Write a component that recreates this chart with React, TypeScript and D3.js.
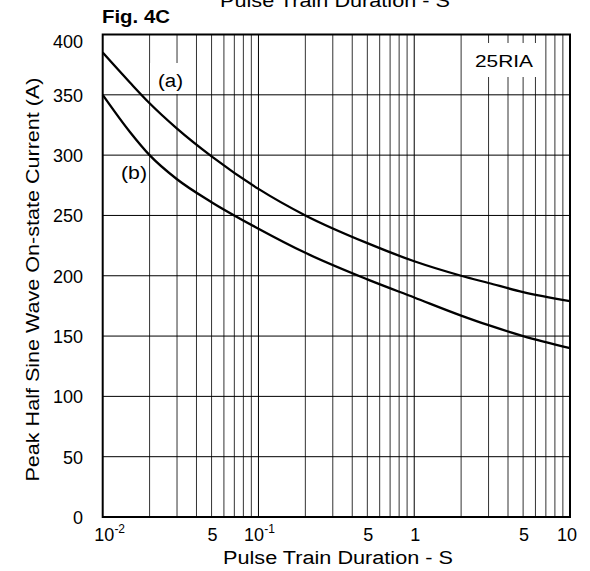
import React from "react";
import * as d3 from "d3";

const seriesAX = [0.01, 0.015, 0.02, 0.03, 0.05, 0.1, 0.2, 0.5, 1, 2, 3, 5, 10];
const seriesAY = [385, 360, 343, 322, 299, 272, 250, 227, 212, 200, 194, 186.5, 179];
const seriesBX = [0.01, 0.015, 0.02, 0.03, 0.05, 0.1, 0.2, 0.5, 1, 2, 3, 5, 10];
const seriesBY = [350, 319, 300, 280, 261, 239, 219, 197, 182, 167, 159, 150, 140];
const yTicks = [0, 50, 100, 150, 200, 250, 300, 350, 400];
const xTickLabels = [
  { v: 0.01, base: "10", sup: "-2" },
  { v: 0.05, base: "5", sup: "" },
  { v: 0.1, base: "10", sup: "-1" },
  { v: 0.5, base: "5", sup: "" },
  { v: 1, base: "1", sup: "" },
  { v: 5, base: "5", sup: "" },
  { v: 10, base: "10", sup: "" },
];

const W = 590;
const H = 571;
const L = 102.7, R = 570, T = 34.5, B = 517;
const FONT = "'Liberation Sans', Arial, Helvetica, sans-serif";

export default function App() {
  const x = d3.scaleLog().domain([0.01, 10]).range([L, R]);
  const y = d3.scaleLinear().domain([0, 400]).range([B, T]);
  const minor: number[] = [];
  for (const dec of [0.01, 0.1, 1]) {
    for (let k = 2; k <= 9; k++) minor.push(dec * k);
  }
  const majors = [0.1, 1];
  const line = d3
    .line<[number, number]>()
    .x((d) => x(d[0]))
    .y((d) => y(d[1]))
    .curve(d3.curveMonotoneX);
  const aPts = seriesAX.map((v, i) => [v, seriesAY[i]] as [number, number]);
  const bPts = seriesBX.map((v, i) => [v, seriesBY[i]] as [number, number]);

  return (
    <svg
      width={W}
      height={H}
      style={{ position: "absolute", left: 0, top: 0, background: "#fff" }}
      fontFamily={FONT}
    >
      <rect x={0} y={0} width={W} height={H} fill="#fff" />
      {/* grid */}
      {minor.map((v) => (
        <line key={"m" + v} x1={x(v)} x2={x(v)} y1={T} y2={B} stroke="#333" strokeWidth={1} />
      ))}
      {majors.map((v) => (
        <line key={"M" + v} x1={x(v)} x2={x(v)} y1={T} y2={B} stroke="#000" strokeWidth={1} />
      ))}
      {yTicks.map((t) => (
        <line key={"h" + t} x1={L} x2={R} y1={y(t)} y2={y(t)} stroke="#000" strokeWidth={1} />
      ))}
      {/* label boxes */}
      <rect x={470} y={43} width={75} height={34} fill="#fff" />
      <rect x={150} y={63} width={40} height={31} fill="#fff" />
      <rect x={117} y={160} width={30} height={30} fill="#fff" />
      <text x={475} y={67} fontSize={17} textLength={58} lengthAdjust="spacingAndGlyphs">25RIA</text>
      <text x={158} y={87} fontSize={18} textLength={25} lengthAdjust="spacingAndGlyphs">(a)</text>
      <text x={121} y={179} fontSize={18} textLength={26} lengthAdjust="spacingAndGlyphs">(b)</text>
      {/* curves */}
      <path d={line(aPts) || ""} fill="none" stroke="#000" strokeWidth={2.3} />
      <path d={line(bPts) || ""} fill="none" stroke="#000" strokeWidth={2.3} />
      {/* frame */}
      <rect x={L} y={T} width={R - L} height={B - T} fill="none" stroke="#000" strokeWidth={2} />
      {/* y tick labels */}
      {yTicks.map((t) => (
        <text
          key={"yl" + t}
          x={83}
          y={t === 400 ? 42 : y(t) + 1}
          fontSize={18}
          textAnchor="end"
          dominantBaseline="central"
        >
          {t}
        </text>
      ))}
      {/* x tick labels */}
      {xTickLabels.map((d) => (
        <text
          key={"xl" + d.v}
          x={d.v === 0.01 ? x(d.v) + 7 : d.v === 10 ? x(d.v) - 3 : x(d.v) + 1}
          y={541}
          fontSize={18}
          textAnchor="middle"
        >
          {d.base}
          {d.sup ? (
            <tspan fontSize={12} dy={-8}>
              {d.sup}
            </tspan>
          ) : null}
        </text>
      ))}
      {/* titles */}
      <text x={220} y={7} fontSize={18} textLength={230} lengthAdjust="spacingAndGlyphs">
        Pulse Train Duration - S
      </text>
      <text x={223} y={564} fontSize={18} textLength={230} lengthAdjust="spacingAndGlyphs">
        Pulse Train Duration - S
      </text>
      <text x={102} y={23} fontSize={18} fontWeight="bold" textLength={68} lengthAdjust="spacingAndGlyphs">
        Fig. 4C
      </text>
      <text
        transform={`translate(39,279.5) rotate(-90)`}
        fontSize={19}
        textAnchor="middle"
        textLength={404}
        lengthAdjust="spacingAndGlyphs"
      >
        Peak Half Sine Wave On-state Current (A)
      </text>
    </svg>
  );
}
